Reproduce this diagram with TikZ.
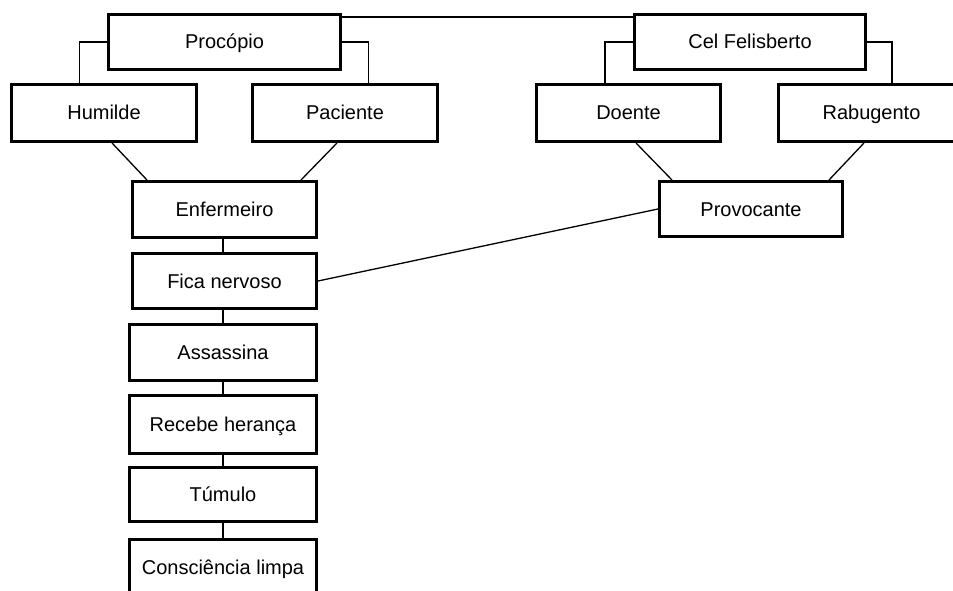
\documentclass[tikz,border=0pt]{standalone}
\usepackage{fontspec}
\setmainfont{Liberation Sans}
\begin{document}
\begin{tikzpicture}[x=1pt,y=-1pt,
  box/.style={draw=black,line width=3pt,fill=white,inner sep=0pt,
    text height=14pt,text depth=0pt,
    font=\fontsize{20}{24}\selectfont,text=black},
  link/.style={draw=black,line width=1.3pt}]
\useasboundingbox (0,0) rectangle (953,591);
\clip (0,0) rectangle (953,591);

% characters of the story
\node[box,minimum width=232pt,minimum height=55pt] (proc) at (224.5,42) {Procópio};
\node[box,minimum width=185pt,minimum height=57pt] (hum)  at (104,113)  {Humilde};
\node[box,minimum width=185pt,minimum height=57pt] (pac)  at (345,113)  {Paciente};
\node[box,minimum width=231pt,minimum height=55pt] (cel)  at (750,42)   {Cel Felisberto};
\node[box,minimum width=184pt,minimum height=57pt] (doe)  at (628.5,113) {Doente};
\node[box,minimum width=186pt,minimum height=57pt] (rab)  at (871.5,113) {Rabugento};
\node[box,minimum width=183pt,minimum height=55pt] (prov) at (751,209)  {Provocante};

% sequence of events
\node[box,minimum width=184pt,minimum height=56pt] (enf)  at (224.5,209.5) {Enfermeiro};
\node[box,minimum width=184pt,minimum height=55pt] (fica) at (224.5,281)   {Fica nervoso};
\node[box,minimum width=187pt,minimum height=56pt] (ass)  at (223,352.5)   {Assassina};
\node[box,minimum width=187pt,minimum height=58pt] (rec)  at (223,424.5)   {Recebe herança};
\node[box,minimum width=187pt,minimum height=54pt] (tum)  at (223,494.5)   {Túmulo};
\node[box,minimum width=187pt,minimum height=55pt] (cons) at (223,567)     {Consciência limpa};

% traits hanging from each character
\draw[link] (proc.west) -| ([xshift=69.5pt]hum.north west);
\draw[link] (proc.east) -| ([xshift=-70.5pt]pac.north east);
\draw[link] (cel.west)  -| ([xshift=70pt]doe.north west);
\draw[link] (cel.east)  -| ([xshift=115pt]rab.north west);
\draw[link] ([yshift=-4pt]proc.north east) -- ([yshift=-4pt]cel.north west);

% traits merging into a role
\draw[link] ([xshift=-86pt]hum.south east) -- ([xshift=16pt]enf.north west);
\draw[link] ([xshift=86pt]pac.south west)  -- ([xshift=-17pt]enf.north east);
\draw[link] ([xshift=101pt]doe.south west) -- ([xshift=14pt]prov.north west);
\draw[link] ([xshift=87pt]rab.south west)  -- ([xshift=-15pt]prov.north east);
\draw[link] (prov.west) -- (fica.east);

% chain of events
\draw[link] (enf.south -| ass.north)  -- (fica.north -| ass.north);
\draw[link] (fica.south -| ass.north) -- (ass.north);
\draw[link] (ass.south) -- (rec.north);
\draw[link] (rec.south) -- (tum.north);
\draw[link] (tum.south) -- (cons.north);
\end{tikzpicture}
\end{document}
